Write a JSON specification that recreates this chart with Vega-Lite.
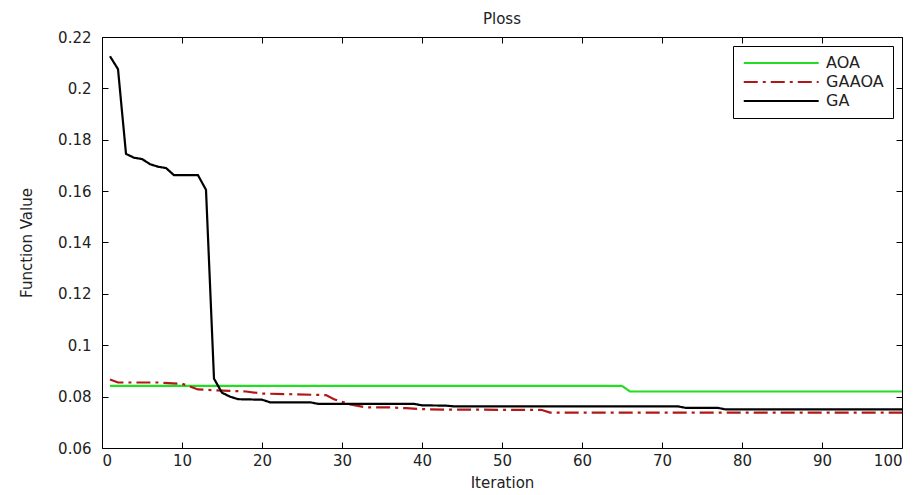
{
  "$schema": "https://vega.github.io/schema/vega-lite/v6.json",
  "width": 800,
  "height": 411,
  "autosize": {"type": "none"},
  "padding": {"left": 102, "top": 37, "right": 22, "bottom": 47},
  "background": "white",
  "config": {
    "font": "DejaVu Sans",
    "view": {"stroke": "black", "strokeWidth": 1},
    "axis": {"labelFont": "DejaVu Sans", "titleFont": "DejaVu Sans", "labelColor": "#222", "titleColor": "#222", "domainColor": "black", "tickColor": "black", "labelFontSize": 15, "titleFontSize": 15, "titleFontWeight": "normal", "grid": false}
  },
  "title": {"text": "Ploss", "fontSize": 15, "fontWeight": "normal", "font": "DejaVu Sans", "color": "#222", "offset": 3},
  "data": {"values": [
    {"series": "AOA", "iter": 1, "value": 0.0842},
    {"series": "AOA", "iter": 65, "value": 0.0842},
    {"series": "AOA", "iter": 66, "value": 0.0820},
    {"series": "AOA", "iter": 100, "value": 0.0820},
    {"series": "GAAOA", "iter": 1, "value": 0.0867},
    {"series": "GAAOA", "iter": 2, "value": 0.0855},
    {"series": "GAAOA", "iter": 7, "value": 0.0855},
    {"series": "GAAOA", "iter": 10, "value": 0.0850},
    {"series": "GAAOA", "iter": 12, "value": 0.0828},
    {"series": "GAAOA", "iter": 14, "value": 0.0825},
    {"series": "GAAOA", "iter": 18, "value": 0.0820},
    {"series": "GAAOA", "iter": 20, "value": 0.0812},
    {"series": "GAAOA", "iter": 28, "value": 0.0806},
    {"series": "GAAOA", "iter": 29, "value": 0.0790},
    {"series": "GAAOA", "iter": 31, "value": 0.0770},
    {"series": "GAAOA", "iter": 33, "value": 0.0758},
    {"series": "GAAOA", "iter": 36, "value": 0.0758},
    {"series": "GAAOA", "iter": 38, "value": 0.0755},
    {"series": "GAAOA", "iter": 41, "value": 0.0750},
    {"series": "GAAOA", "iter": 55, "value": 0.0748},
    {"series": "GAAOA", "iter": 56, "value": 0.0738},
    {"series": "GAAOA", "iter": 100, "value": 0.0738},
    {"series": "GA", "iter": 1, "value": 0.2125},
    {"series": "GA", "iter": 2, "value": 0.2075},
    {"series": "GA", "iter": 3, "value": 0.1745},
    {"series": "GA", "iter": 4, "value": 0.1730},
    {"series": "GA", "iter": 5, "value": 0.1725},
    {"series": "GA", "iter": 6, "value": 0.1705},
    {"series": "GA", "iter": 7, "value": 0.1695},
    {"series": "GA", "iter": 8, "value": 0.1690},
    {"series": "GA", "iter": 9, "value": 0.1662},
    {"series": "GA", "iter": 12, "value": 0.1662},
    {"series": "GA", "iter": 13, "value": 0.1605},
    {"series": "GA", "iter": 14, "value": 0.0870},
    {"series": "GA", "iter": 15, "value": 0.0815},
    {"series": "GA", "iter": 16, "value": 0.0800},
    {"series": "GA", "iter": 17, "value": 0.0790},
    {"series": "GA", "iter": 20, "value": 0.0788},
    {"series": "GA", "iter": 21, "value": 0.0778},
    {"series": "GA", "iter": 26, "value": 0.0778},
    {"series": "GA", "iter": 27, "value": 0.0772},
    {"series": "GA", "iter": 39, "value": 0.0772},
    {"series": "GA", "iter": 40, "value": 0.0766},
    {"series": "GA", "iter": 43, "value": 0.0765},
    {"series": "GA", "iter": 44, "value": 0.0762},
    {"series": "GA", "iter": 72, "value": 0.0762},
    {"series": "GA", "iter": 73, "value": 0.0756},
    {"series": "GA", "iter": 77, "value": 0.0756},
    {"series": "GA", "iter": 78, "value": 0.0750},
    {"series": "GA", "iter": 100, "value": 0.0750}
  ]},
  "resolve": {"axis": {"x": "independent", "y": "independent"}},
  "layer": [
    {
      "mark": {"type": "line", "strokeWidth": 2.2},
      "encoding": {
        "x": {"field": "iter", "type": "quantitative", "scale": {"domain": [0, 100], "nice": false},
              "axis": {"orient": "bottom", "offset": -6, "title": "Iteration", "values": [0,10,20,30,40,50,60,70,80,90,100], "tickSize": 6, "labelPadding": 5, "titlePadding": 7, "domain": false}},
        "y": {"field": "value", "type": "quantitative", "scale": {"domain": [0.06, 0.22], "nice": false, "zero": false},
              "axis": {"orient": "left", "offset": -6, "title": "Function Value", "values": [0.06,0.08,0.1,0.12,0.14,0.16,0.18,0.2,0.22], "tickSize": 6, "labelPadding": 11, "titlePadding": 23, "domain": false, "labelExpr": "datum.value == 0.1 ? '0.1' : datum.value == 0.2 ? '0.2' : format(datum.value, '.2f')"}},
        "color": {"field": "series", "type": "nominal",
                  "scale": {"domain": ["AOA", "GAAOA", "GA"], "range": ["#22dd22", "#b01818", "#000000"]},
                  "legend": {"title": null, "orient": "top-right", "offset": 9, "symbolType": "M-1,0H11", "symbolSize": 156, "symbolStrokeWidth": 2.2, "labelFontSize": 16, "labelFont": "DejaVu Sans", "labelColor": "#222", "fillColor": "white", "strokeColor": "black", "padding": 9, "rowPadding": 3, "labelOffset": 68}},
        "strokeDash": {"field": "series", "type": "nominal",
                  "scale": {"domain": ["AOA", "GAAOA", "GA"], "range": [[1, 0], [14, 5, 3, 5], [1, 0]]},
                  "legend": {"title": null}},
        "order": {"field": "iter", "type": "quantitative"}
      }
    },
    {
      "mark": {"type": "line", "strokeOpacity": 0},
      "encoding": {
        "x": {"field": "iter", "type": "quantitative", "scale": {"domain": [0, 100], "nice": false},
              "axis": {"orient": "top", "offset": -6, "values": [0,10,20,30,40,50,60,70,80,90,100], "tickSize": 6, "labels": false, "domain": false, "title": null}},
        "y": {"field": "value", "type": "quantitative", "scale": {"domain": [0.06, 0.22], "nice": false, "zero": false},
              "axis": {"orient": "right", "offset": -6, "values": [0.06,0.08,0.1,0.12,0.14,0.16,0.18,0.2,0.22], "tickSize": 6, "labels": false, "domain": false, "title": null}}
      }
    }
  ]
}
